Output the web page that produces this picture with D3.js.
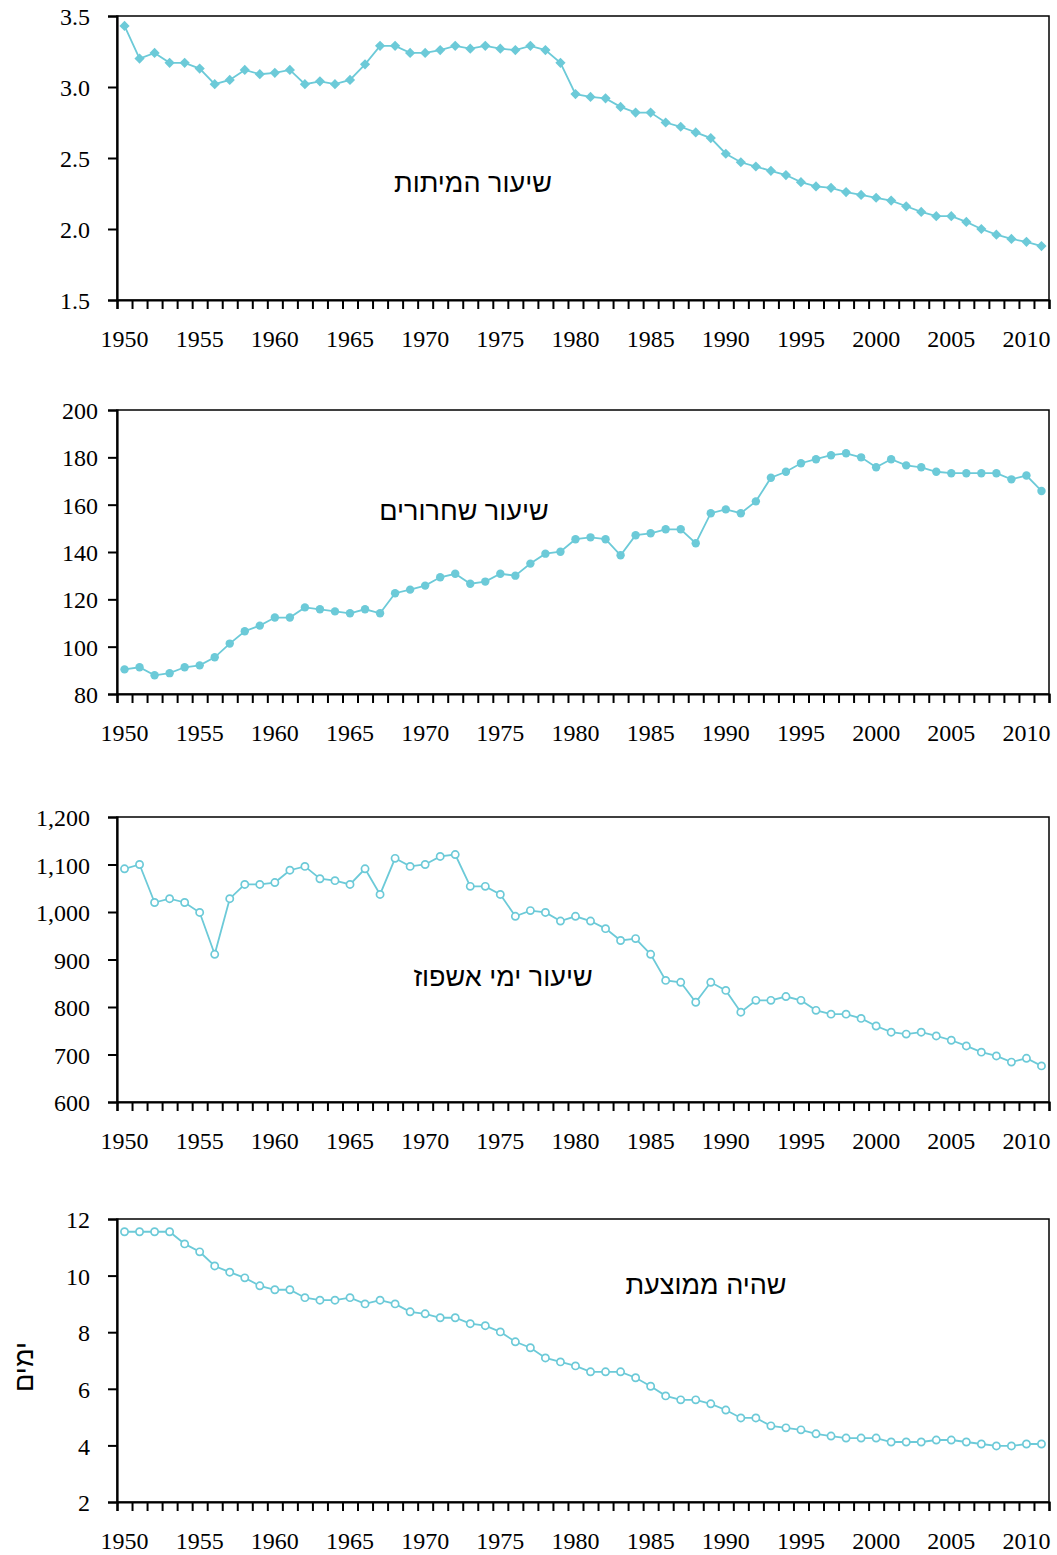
<!DOCTYPE html>
<html><head><meta charset="utf-8">
<script src="https://cdn.jsdelivr.net/npm/d3@7"></script>
<style>
body{margin:0;background:#fff;}
svg{display:block;}
</style></head>
<body>
<svg id="c" width="1057" height="1555"></svg>
<script>
const years = d3.range(1950, 2012);
const labelYears = [1950,1955,1960,1965,1970,1975,1980,1985,1990,1995,2000,2005,2010];

const mortality = [3.43,3.20,3.24,3.17,3.17,3.13,3.02,3.05,3.12,3.09,3.10,3.12,3.02,3.04,3.02,3.05,3.16,3.29,3.29,3.24,
  3.24,3.26,3.29,3.27,3.29,3.27,3.26,3.29,3.26,3.17,2.95,2.93,2.92,2.86,2.82,2.82,2.75,2.72,2.68,2.64,
  2.53,2.47,2.44,2.41,2.38,2.33,2.30,2.29,2.26,2.24,2.22,2.20,2.16,2.12,2.09,2.09,2.05,2.00,1.96,1.93,1.91,1.88];
const discharges = [90.4,91.3,87.9,88.8,91.3,92.1,95.5,101.3,106.5,108.9,112.3,112.3,116.6,115.8,114.9,114.1,115.8,114.1,122.6,124.1,
  125.8,129.3,130.8,126.6,127.5,130.8,130.0,135.1,139.3,140.1,145.4,146.2,145.4,138.6,147.1,147.9,149.6,149.6,143.7,156.4,
  158.0,156.4,161.4,171.4,173.9,177.5,179.2,180.9,181.7,180.0,175.8,179.2,176.6,175.8,173.9,173.3,173.3,173.3,173.3,170.7,172.3,165.8];
const hospDays = [1091,1100,1020,1028,1020,999,911,1028,1058,1058,1062,1088,1096,1070,1066,1058,1091,1037,1113,1096,
  1100,1117,1121,1054,1054,1037,991,1003,999,981,991,981,965,940,944,911,856,852,810,852,
  835,789,814,814,822,814,793,785,785,776,760,747,743,747,739,730,718,705,697,684,692,676];
const avgStay = [11.55,11.55,11.55,11.55,11.12,10.84,10.34,10.12,9.92,9.64,9.50,9.50,9.22,9.13,9.13,9.22,9.00,9.13,9.00,8.72,
  8.65,8.51,8.51,8.30,8.23,8.01,7.66,7.45,7.09,6.95,6.81,6.60,6.60,6.60,6.39,6.09,5.75,5.61,5.61,5.47,
  5.25,4.97,4.97,4.69,4.62,4.55,4.41,4.33,4.26,4.26,4.26,4.12,4.12,4.12,4.19,4.19,4.12,4.05,3.98,3.98,4.05,4.05];

const ticks1 = [1.5,2.0,2.5,3.0,3.5];
const ticks2 = [80,100,120,140,160,180,200];
const ticks3 = [600,700,800,900,1000,1100,1200];
const ticks4 = [2,4,6,8,10,12];

const panels = [
  {data: mortality, dom:[1.5,3.5], ticks: ticks1, fmt: d3.format(".1f"), top:16, bottom:300, pad:18,
   marker:"diamond", label:"שיעור המיתות", lx:473, ly:192},
  {data: discharges, dom:[80,200], ticks: ticks2, fmt: d3.format("d"), top:410, bottom:694, pad:10,
   marker:"dot", label:"שיעור שחרורים", lx:464, ly:520},
  {data: hospDays, dom:[600,1200], ticks: ticks3, fmt: d3.format(","), top:817, bottom:1102, pad:18,
   marker:"open", label:"שיעור ימי אשפוז", lx:503, ly:986},
  {data: avgStay, dom:[2,12], ticks: ticks4, fmt: d3.format("d"), top:1219, bottom:1502, pad:18,
   marker:"open", label:"שהיה ממוצעת", lx:706, ly:1294}
];

const color = "#6ccad8";
const L = 117, R = 1049;
const svg = d3.select("#c");
const serif = "'Liberation Serif','Times New Roman',serif";
const sans = "'Liberation Sans',Arial,sans-serif";

const x = d3.scaleBand().domain(years).range([L, R]).padding(0);
const xb = d3.scaleLinear().domain([0, years.length]).range([L, R]);
const cx = d => x(d) + x.bandwidth()/2;

panels.forEach(p => {
  const y = d3.scaleLinear().domain(p.dom).range([p.bottom, p.top]);
  const g = svg.append("g");

  g.append("rect").attr("x", L).attr("y", p.top).attr("width", R-L).attr("height", p.bottom-p.top)
    .attr("fill","none").attr("stroke","#000").attr("stroke-width",1.5);

  const tb = g.append("g").attr("transform",`translate(0,${p.bottom})`)
    .call(d3.axisBottom(xb).tickValues(d3.range(0, years.length+1)).tickSize(9).tickFormat(""));
  tb.select(".domain").attr("stroke","#000").attr("stroke-width",2.2);
  tb.selectAll(".tick line").attr("stroke","#000").attr("stroke-width",2);

  const tl = g.append("g").attr("transform",`translate(0,${p.bottom})`)
    .call(d3.axisBottom(x).tickValues(labelYears).tickSize(0).tickPadding(30));
  tl.select(".domain").remove();
  tl.selectAll("text").attr("font-family", serif).attr("font-size", 24).attr("fill","#000");

  const ya = g.append("g").attr("transform",`translate(${L},0)`)
    .call(d3.axisLeft(y).tickValues(p.ticks).tickSize(9).tickPadding(p.pad).tickFormat(p.fmt));
  ya.select(".domain").attr("stroke","#000").attr("stroke-width",2.2);
  ya.selectAll(".tick line").attr("stroke","#000").attr("stroke-width",2);
  ya.selectAll("text").attr("font-family", serif).attr("font-size", 24).attr("fill","#000").attr("dy","0.36em");

  const line = d3.line().x((d,i)=>cx(years[i])).y(d=>y(d));
  g.append("path").datum(p.data).attr("d", line).attr("fill","none")
    .attr("stroke", color).attr("stroke-width", 1.8);

  if (p.marker === "diamond") {
    const sym = d3.symbol().type(d3.symbolSquare).size(52);
    g.selectAll(".m").data(p.data).enter().append("path")
      .attr("d", sym)
      .attr("transform", (d,i)=>`translate(${cx(years[i])},${y(d)}) rotate(45)`)
      .attr("fill", color);
  } else if (p.marker === "dot") {
    g.selectAll(".m").data(p.data).enter().append("circle")
      .attr("cx", (d,i)=>cx(years[i])).attr("cy", d=>y(d)).attr("r", 4.2).attr("fill", color);
  } else {
    g.selectAll(".m").data(p.data).enter().append("circle")
      .attr("cx", (d,i)=>cx(years[i])).attr("cy", d=>y(d)).attr("r", 3.6)
      .attr("fill", "#fff").attr("stroke", color).attr("stroke-width", 1.7);
  }

  g.append("text").attr("x", p.lx).attr("y", p.ly).attr("text-anchor","middle")
    .attr("direction","rtl")
    .attr("font-family", sans).attr("font-size", 27).attr("fill","#000").text(p.label);
});

svg.append("text").attr("transform","translate(33,1367) rotate(-90)")
  .attr("text-anchor","middle").attr("direction","rtl")
  .attr("font-family", sans).attr("font-size", 27).attr("fill","#000").text("ימים");
</script>
</body></html>
